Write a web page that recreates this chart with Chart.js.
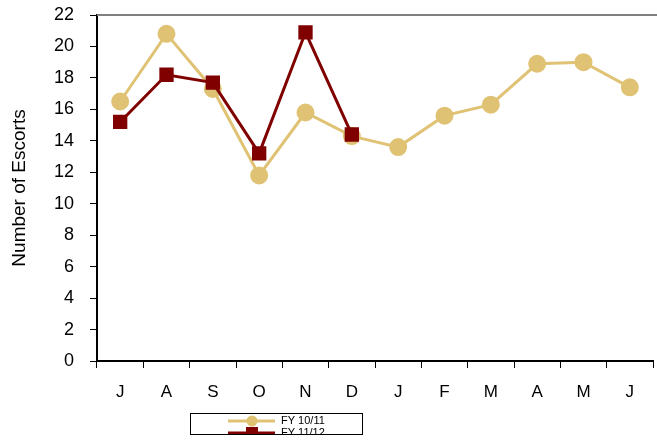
<!DOCTYPE html>
<html>
<head>
<meta charset="utf-8">
<script src="https://cdn.jsdelivr.net/npm/chart.js@4"></script>
<style>
  html, body { margin: 0; padding: 0; background: #fff; }
  #wrap { width: 657px; height: 445px; }
</style>
</head>
<body>
<div id="wrap"><canvas id="escortChart" width="657" height="445"></canvas></div>
<script>
const months = ['J', 'A', 'S', 'O', 'N', 'D', 'J', 'F', 'M', 'A', 'M', 'J'];
const fy1011 = [16.5, 20.8, 17.3, 11.8, 15.8, 14.3, 13.6, 15.6, 16.3, 18.9, 19.0, 17.4];
const fy1112 = [15.2, 18.2, 17.7, 13.2, 20.9, 14.4];
const seriesNames = ['FY 10/11', 'FY 11/12'];
const yTicks = [0, 2, 4, 6, 8, 10, 12, 14, 16, 18, 20, 22];

const gold = '#E0C274';
const darkRed = '#800000';
const fontFamily = '"Liberation Sans", Arial, sans-serif';

// top border of the plot + clipped legend box
const extras = {
    id: 'extras',
    afterDraw(chart) {
        const c = chart.ctx;
        const a = chart.chartArea;
        c.save();
        c.strokeStyle = '#808080';
        c.lineWidth = 2;
        c.beginPath();
        c.moveTo(a.left, a.top);
        c.lineTo(657, a.top);
        c.stroke();

        // legend
        const bx = 190, by = 413, bw = 172, bh = 21;
        c.beginPath();
        c.rect(bx, by, bw, bh);
        c.clip();
        c.fillStyle = '#fff';
        c.fillRect(bx, by, bw, bh);
        c.font = '11px ' + fontFamily;
        c.textBaseline = 'middle';
        chart.data.datasets.forEach((ds, i) => {
            const y = by + 8 + i * 12;
            c.strokeStyle = ds.borderColor;
            c.lineWidth = 3;
            c.beginPath();
            c.moveTo(228, y);
            c.lineTo(275, y);
            c.stroke();
            c.fillStyle = ds.borderColor;
            if (ds.pointStyle === 'rect') {
                c.fillRect(246, y - 6, 12, 12);
            } else {
                c.beginPath();
                c.arc(252, y, 5.5, 0, Math.PI * 2);
                c.fill();
            }
            c.fillStyle = '#000';
            c.fillText(ds.label, 281, y);
        });
        c.restore();
        c.save();
        c.strokeStyle = '#000';
        c.lineWidth = 1;
        c.strokeRect(bx + 0.5, by + 0.5, bw, bh);
        c.restore();
    }
};

const ctx = document.getElementById('escortChart').getContext('2d');
new Chart(ctx, {
    type: 'line',
    data: {
        labels: months,
        datasets: [
            {
                label: seriesNames[0],
                data: fy1011,
                borderColor: gold,
                backgroundColor: gold,
                borderWidth: 3,
                pointStyle: 'circle',
                pointRadius: 7.5,
                pointHoverRadius: 7.5,
                tension: 0,
                order: 1
            },
            {
                label: seriesNames[1],
                data: fy1112,
                borderColor: darkRed,
                backgroundColor: darkRed,
                borderWidth: 3,
                pointStyle: 'rect',
                pointRadius: 8,
                pointHoverRadius: 8,
                tension: 0,
                order: 0
            }
        ]
    },
    options: {
        responsive: false,
        animation: false,
        layout: { autoPadding: false, padding: { top: 15, right: 4, left: 8, bottom: 0 } },
        plugins: {
            legend: { display: false },
            tooltip: { enabled: false }
        },
        scales: {
            x: {
                offset: true,
                grid: { offset: true, drawOnChartArea: false, drawTicks: true, tickLength: 7, color: '#000', lineWidth: 1 },
                border: { color: '#000', width: 2 },
                ticks: {
                    color: '#000',
                    padding: 14,
                    maxRotation: 0,
                    font: { family: fontFamily, size: 17 }
                },
                afterFit(scale) { scale.height = 84; scale.paddingLeft = 0; scale.paddingRight = 0; }
            },
            y: {
                min: 0,
                max: 22,
                afterBuildTicks(scale) { scale.ticks = yTicks.map(v => ({ value: v })); },
                grid: { drawOnChartArea: false, drawTicks: true, tickLength: 7, color: '#000', lineWidth: 1 },
                border: { color: '#000', width: 2 },
                ticks: {
                    color: '#000',
                    padding: 16,
                    font: { family: fontFamily, size: 18 }
                },
                title: {
                    display: true,
                    text: 'Number of Escorts',
                    color: '#000',
                    padding: { top: 0, bottom: 0 },
                    font: { family: fontFamily, size: 19 }
                },
                afterFit(scale) { scale.width = 89; scale.paddingTop = 0; scale.paddingBottom = 0; }
            }
        }
    },
    plugins: [extras]
});
</script>
</body>
</html>
